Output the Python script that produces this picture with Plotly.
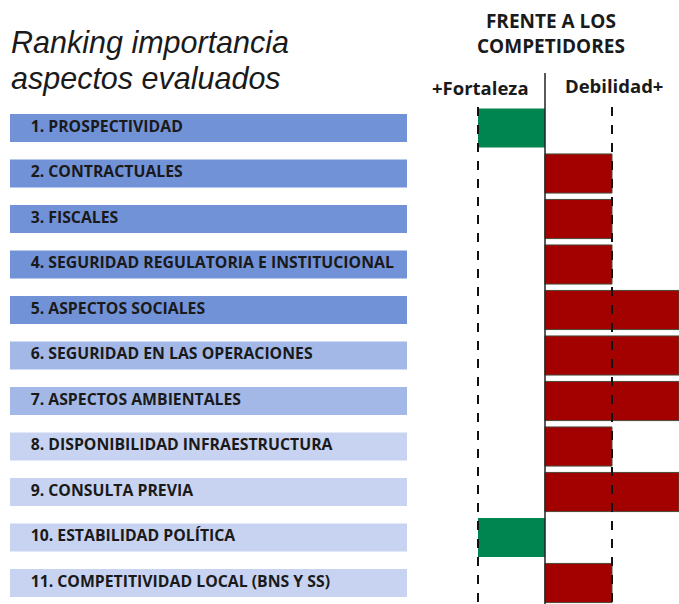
import plotly.graph_objects as go

# ranking of evaluated aspects and their position against competitors
ranks = list(range(1, 12))
aspectos = [
    "1. PROSPECTIVIDAD",
    "2. CONTRACTUALES",
    "3. FISCALES",
    "4. SEGURIDAD REGULATORIA E INSTITUCIONAL",
    "5. ASPECTOS SOCIALES",
    "6. SEGURIDAD EN LAS OPERACIONES",
    "7. ASPECTOS AMBIENTALES",
    "8. DISPONIBILIDAD INFRAESTRUCTURA",
    "9. CONSULTA PREVIA",
    "10. ESTABILIDAD POLÍTICA",
    "11. COMPETITIVIDAD LOCAL (BNS Y SS)",
]
# negative = fortaleza, positive = debilidad
balance = [-1, 1, 1, 1, 2, 2, 2, 1, 2, -1, 1]

W, H = 679, 604

def box_color(r):
    if r <= 5:
        return "#7292d8"
    if r <= 7:
        return "#a3b8e7"
    return "#c7d3f0"

fortaleza = [v if v < 0 else None for v in balance]
debilidad = [v if v > 0 else None for v in balance]

fig = go.Figure()

# left label boxes
fig.add_trace(go.Bar(
    x=[1] * len(ranks), y=ranks, orientation="h", width=0.62,
    marker=dict(color=[box_color(r) for r in ranks], line=dict(width=0)),
    xaxis="x2", yaxis="y", hoverinfo="skip", showlegend=False))
fig.add_trace(go.Scatter(
    x=[0.052] * len(ranks), y=ranks, mode="text", text=aspectos,
    textposition="middle right",
    textfont=dict(family="Open Sans", size=15.8, color="#1a1a1a", weight="bold"),
    xaxis="x2", yaxis="y", hoverinfo="skip", showlegend=False))

# right diverging bars
fig.add_trace(go.Bar(
    x=fortaleza, y=ranks, orientation="h", width=0.86, name="Fortaleza",
    marker=dict(color="#008550", line=dict(width=0)),
    xaxis="x", yaxis="y", showlegend=False))
fig.add_trace(go.Bar(
    x=debilidad, y=ranks, orientation="h", width=0.86, name="Debilidad",
    marker=dict(color="#a30000", line=dict(color="#4a4a3a", width=1)),
    xaxis="x", yaxis="y", showlegend=False))

top = 105.25
step = 45.5
y_top = 0.5 - top / step
y_bot = 0.5 + (H - top) / step

x0_px = 474.65
fig.update_layout(
    width=W, height=H,
    margin=dict(l=0, r=0, t=0, b=0),
    paper_bgcolor="white", plot_bgcolor="rgba(0,0,0,0)",
    barmode="overlay",
    xaxis=dict(domain=[x0_px / W, 1], range=[-1.05, 2], visible=False, fixedrange=True),
    xaxis2=dict(domain=[10 / W, 407 / W], range=[0, 1], visible=False, anchor="y"),
    yaxis=dict(range=[y_bot, y_top], visible=False, domain=[0, 1]),
)

# zero line and +/- 1 dashed guides
fig.add_shape(type="line", xref="x", yref="paper", x0=0, x1=0,
              y0=1 - 73 / H, y1=0, line=dict(color="#222222", width=1.5), layer="above")
for gx in (-1, 1):
    fig.add_shape(type="line", xref="x", yref="paper", x0=gx, x1=gx,
                  y0=1 - 107 / H, y1=0, line=dict(color="#111111", width=2, dash="dash"),
                  layer="above")

def note(text, xpx, ypx, size, anchor="center", italic=False, bold=True, family="Open Sans"):
    fig.add_annotation(
        text=text, xref="paper", yref="paper", x=xpx / W, y=1 - ypx / H,
        xanchor=anchor, yanchor="middle", showarrow=False,
        font=dict(family=family, size=size, color="#1a1a1a",
                  weight="bold" if bold else "normal",
                  style="italic" if italic else "normal"))

note("Ranking importancia", 9, 42, 30.5, anchor="left", italic=True, bold=False,
     family="Liberation Sans")
note("aspectos evaluados", 9, 78, 30.5, anchor="left", italic=True, bold=False,
     family="Liberation Sans")
note("FRENTE A LOS<br>COMPETIDORES", 551, 34, 19)
note("+Fortaleza", 480, 88, 18.5)
note("Debilidad+", 614, 86, 18.5)

# drop the default page margin so the figure sits at the window corner
fig.write_html("out.html", config={"displayModeBar": False},
               post_script="document.body.style.margin='0px';")
